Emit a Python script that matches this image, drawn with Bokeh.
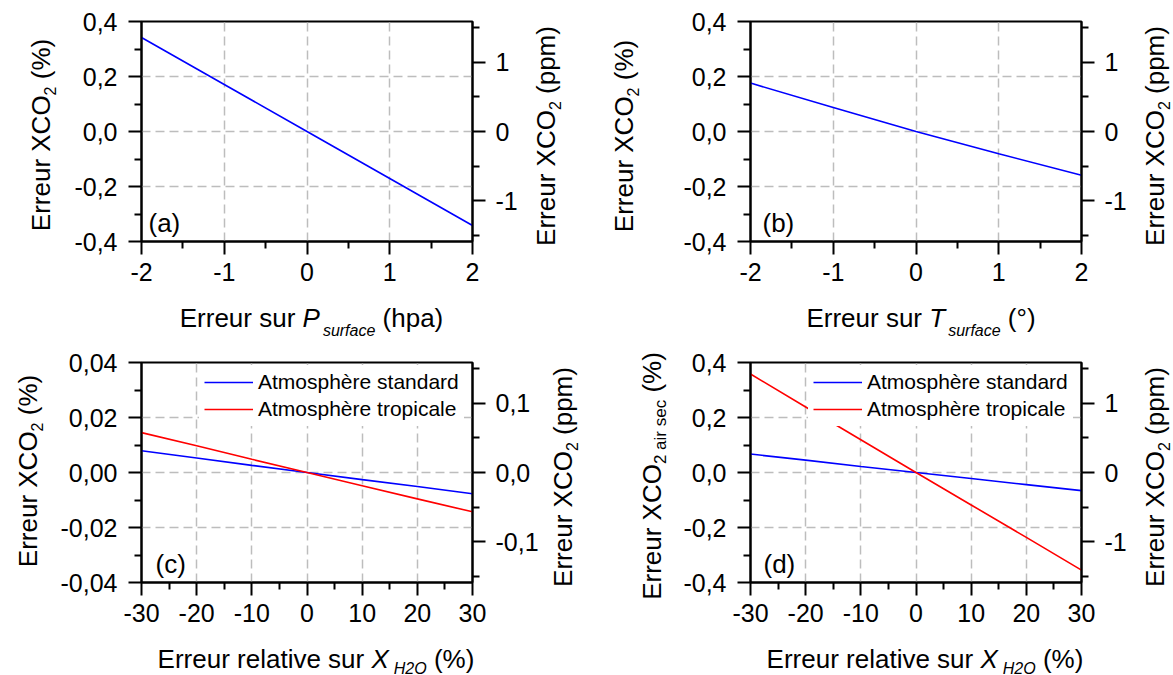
import math
from bokeh.plotting import figure
from bokeh.layouts import gridplot
from bokeh.models import (Range1d, LinearAxis, FixedTicker, Label, Legend,
                          LegendItem, CustomJSTickFormatter, Div)
from bokeh.embed import file_html
from bokeh.resources import INLINE

FONT = "Liberation Sans"

# ------------------------------------------------------------------ data
p_err_hpa = [-2, -1, 0, 1, 2]
xco2_err_vs_p = [0.342, 0.171, 0.0, -0.171, -0.342]

t_err_deg = [-2, -1, 0, 1, 2]
xco2_err_vs_t = [0.176, 0.087, 0.0, -0.081, -0.159]

xh2o_rel_err = [-30, -20, -10, 0, 10, 20, 30]
xco2_err_std = [0.0079, 0.0053, 0.0026, 0.0, -0.0026, -0.0051, -0.0077]
xco2_err_trop = [0.0145, 0.0097, 0.0048, 0.0, -0.0048, -0.0096, -0.0143]
xco2dry_err_std = [0.067, 0.045, 0.022, 0.0, -0.022, -0.044, -0.066]
xco2dry_err_trop = [0.358, 0.238, 0.119, 0.0, -0.118, -0.236, -0.355]

series_labels = ["Atmosphère standard", "Atmosphère tropicale"]
series_colors = ["#0000ff", "#ff0000"]
panel_tags = ["(a)", "(b)", "(c)", "(d)"]
xco2_ref_ppm = 398.0  # secondary axis: ppm = % * xco2_ref_ppm / 100

# ------------------------------------------------------------------ ticks
ticks_pt = [-2, -1, 0, 1, 2]
labels_pt = ["-2", "-1", "0", "1", "2"]
minor_pt = [-1.5, -0.5, 0.5, 1.5]

ticks_h2o = [-30, -20, -10, 0, 10, 20, 30]
labels_h2o = ["-30", "-20", "-10", "0", "10", "20", "30"]
minor_h2o = [-25, -15, -5, 5, 15, 25]

ticks_pct = [-0.4, -0.2, 0.0, 0.2, 0.4]
labels_pct = ["-0,4", "-0,2", "0,0", "0,2", "0,4"]
minor_pct = [-0.3, -0.1, 0.1, 0.3]

ticks_pct_c = [-0.04, -0.02, 0.0, 0.02, 0.04]
labels_pct_c = ["-0,04", "-0,02", "0,00", "0,02", "0,04"]
minor_pct_c = [-0.03, -0.01, 0.01, 0.03]

ticks_ppm = [-1, 0, 1]
labels_ppm = ["-1", "0", "1"]
minor_ppm = [-1.5, -0.5, 0.5, 1.5]

ticks_ppm_c = [-0.1, 0.0, 0.1]
labels_ppm_c = ["-0,1", "0,0", "0,1"]
minor_ppm_c = [-0.15, -0.05, 0.05, 0.15]

# ------------------------------------------------------------------ titles (HTML)
BASE = (f"font-family:'{FONT}';font-size:26px;line-height:26px;color:#000;"
        "white-space:nowrap;")
BL = 0.8465  # baseline below the top of a 1em line box, in em
MID = 0.3465  # baseline below the centre of a 1em line box, in em


def sub(text, size, drop, ml=0, italic=False):
    st = "italic" if italic else "normal"
    return (f'<span style="font-size:{size}px;line-height:{size}px;font-style:{st};'
            f'position:relative;top:{drop}px;margin-left:{ml}px">{text}</span>')


def it(text):
    return f'<span style="font-style:italic">{text}</span>'


def htitle(cx, baseline, inner):
    top = baseline - BL * 26
    return (f'<span style="position:absolute;left:{cx}px;top:{top:.1f}px;'
            f'transform:translateX(-50%);{BASE}">{inner}</span>')


def vtitle(baseline_x, cy, inner):
    x = baseline_x - MID * 26
    return (f'<span style="position:absolute;left:{x:.1f}px;top:{cy}px;'
            f'transform:translate(-50%,-50%) rotate(-90deg);{BASE}">{inner}</span>')


ytitle_pct = "Erreur XCO" + sub("2", 16, 6) + " (%)"
ytitle_ppm = "Erreur XCO" + sub("2", 16, 6) + " (ppm)"
ytitle_pct_dry = "Erreur XCO" + sub("2 air sec", 17, 5) + " (%)"
xtitle_p = "Erreur sur " + it("P") + sub("surface", 16, 9, 3, True) + " (hpa)"
xtitle_t = "Erreur sur " + it("T") + sub("surface", 16, 9, 3, True) + " (°)"
xtitle_h = "Erreur relative sur " + it("X") + sub("H2O", 16, 6, 5, True) + " (%)"


# ------------------------------------------------------------------ helpers
def fmt(ticks, labels):
    return CustomJSTickFormatter(args=dict(t=ticks, l=labels), code="""
        let best = 0, d = Infinity;
        for (let i = 0; i < t.length; i++) {
            const e = Math.abs(t[i] - tick);
            if (e < d) { d = e; best = i; }
        }
        return l[best];
    """)


def style_axis(ax, standoff):
    ax.axis_line_width = 2
    ax.axis_line_color = "black"
    ax.major_tick_line_width = 2
    ax.minor_tick_line_width = 2
    ax.major_tick_line_color = "black"
    ax.minor_tick_line_color = "black"
    ax.major_tick_out = 13
    ax.major_tick_in = 0
    ax.minor_tick_out = 7
    ax.minor_tick_in = 0
    ax.major_label_text_font = FONT
    ax.major_label_text_font_size = "25px"
    ax.major_label_text_color = "black"
    ax.major_label_standoff = standoff


def make_panel(width, height, lb, rb, tb, bb, xticks, xlabels, xminor,
               yticks, ylabels, yminor, pticks, plabels, pminor):
    xr = (xticks[0], xticks[-1])
    yr = (yticks[0], yticks[-1])
    ppm_half = yr[1] * xco2_ref_ppm / 100.0
    p = figure(width=width, height=height, x_range=Range1d(*xr),
               y_range=Range1d(*yr), output_backend="svg",
               toolbar_location=None, min_border_left=lb, min_border_right=rb,
               min_border_top=tb, min_border_bottom=bb,
               background_fill_color="white", border_fill_color="white")
    p.outline_line_color = "black"
    p.outline_line_width = 2
    p.outline_line_alpha = 1.0
    p.extra_y_ranges = {"ppm": Range1d(-ppm_half, ppm_half)}

    xt = FixedTicker(ticks=xticks, minor_ticks=xminor)
    yt = FixedTicker(ticks=yticks, minor_ticks=yminor)
    p.xaxis.ticker = xt
    p.xaxis.formatter = fmt(xticks, xlabels)
    p.yaxis.ticker = yt
    p.yaxis.formatter = fmt(yticks, ylabels)
    for ax in p.xaxis:
        style_axis(ax, 8)
    for ax in p.yaxis:
        style_axis(ax, 11)

    rax = LinearAxis(y_range_name="ppm",
                     ticker=FixedTicker(ticks=pticks, minor_ticks=pminor),
                     formatter=fmt(pticks, plabels))
    style_axis(rax, 10)
    p.add_layout(rax, "right")

    for g, t in ((p.xgrid, xt), (p.ygrid, yt)):
        g.ticker = t
        g.grid_line_color = "#bdbdbd"
        g.grid_line_width = 1.5
        g.grid_line_dash = "9 5"
    return p


def add_legend(p, renderers):
    items = [LegendItem(label=lab, renderers=[r])
             for lab, r in zip(series_labels, renderers)]
    lg = Legend(items=items, location=(58, 156), orientation="vertical",
                label_text_font=FONT, label_text_font_size="21px",
                label_text_color="black", glyph_width=49, glyph_height=24,
                label_height=24, label_standoff=5, spacing=3, padding=5,
                margin=0, border_line_alpha=0, background_fill_color="white",
                background_fill_alpha=1.0)
    p.add_layout(lg)


def tag(p, text, x):
    p.add_layout(Label(x=x, y=19, x_units="screen", y_units="screen",
                       text=text, text_font=FONT, text_font_size="26px",
                       text_baseline="alphabetic", text_align="left",
                       text_color="black"))


# ------------------------------------------------------------------ panels
W1, W2 = 582, 591
H1, H2 = 348, 327

pa = make_panel(W1, H1, 141, 110, 21, 107, ticks_pt, labels_pt, minor_pt,
                ticks_pct, labels_pct, minor_pct, ticks_ppm, labels_ppm, minor_ppm)
pa.line(p_err_hpa, xco2_err_vs_p, line_color=series_colors[0], line_width=1.6)
tag(pa, panel_tags[0], 7)

pb = make_panel(W2, H1, 168, 92, 21, 107, ticks_pt, labels_pt, minor_pt,
                ticks_pct, labels_pct, minor_pct, ticks_ppm, labels_ppm, minor_ppm)
pb.line(t_err_deg, xco2_err_vs_t, line_color=series_colors[0], line_width=1.6)
tag(pb, panel_tags[1], 12)

pc = make_panel(W1, H2, 141, 110, 14, 93, ticks_h2o, labels_h2o, minor_h2o,
                ticks_pct_c, labels_pct_c, minor_pct_c, ticks_ppm_c, labels_ppm_c,
                minor_ppm_c)
rc1 = pc.line(xh2o_rel_err, xco2_err_std, line_color=series_colors[0], line_width=1.6)
rc2 = pc.line(xh2o_rel_err, xco2_err_trop, line_color=series_colors[1], line_width=1.6)
add_legend(pc, [rc1, rc2])
tag(pc, panel_tags[2], 14)

pd_ = make_panel(W2, H2, 168, 92, 14, 93, ticks_h2o, labels_h2o, minor_h2o,
                 ticks_pct, labels_pct, minor_pct, ticks_ppm, labels_ppm, minor_ppm)
rd1 = pd_.line(xh2o_rel_err, xco2dry_err_std, line_color=series_colors[0], line_width=1.6)
rd2 = pd_.line(xh2o_rel_err, xco2dry_err_trop, line_color=series_colors[1], line_width=1.6)
add_legend(pd_, [rd1, rd2])
tag(pd_, panel_tags[3], 13)

grid = gridplot([[pa, pb], [pc, pd_]], toolbar_location=None)

# axis titles: page-positioned HTML overlay (italics and subscripts)
spans = [
    vtitle(45, 130, ytitle_pct), vtitle(550, 131, ytitle_ppm),
    vtitle(628, 131, ytitle_pct), vtitle(1159, 131, ytitle_ppm),
    vtitle(32, 466, ytitle_pct), vtitle(567, 472, ytitle_ppm),
    vtitle(656, 471, ytitle_pct_dry), vtitle(1159, 472, ytitle_ppm),
    htitle(306.5, 322, xtitle_p), htitle(916, 322, xtitle_t),
    htitle(311, 663, xtitle_h), htitle(920, 663, xtitle_h),
]
overlay = Div(text='<div style="position:relative;width:1173px;height:675px">'
              + "".join(spans) + "</div>",
              width=1173, height=675,
              styles={"position": "absolute", "left": "0px", "top": "0px",
                      "pointer-events": "none", "z-index": "10",
                      "overflow": "visible"})

open("out.html", "w").write(file_html([grid, overlay], INLINE))
